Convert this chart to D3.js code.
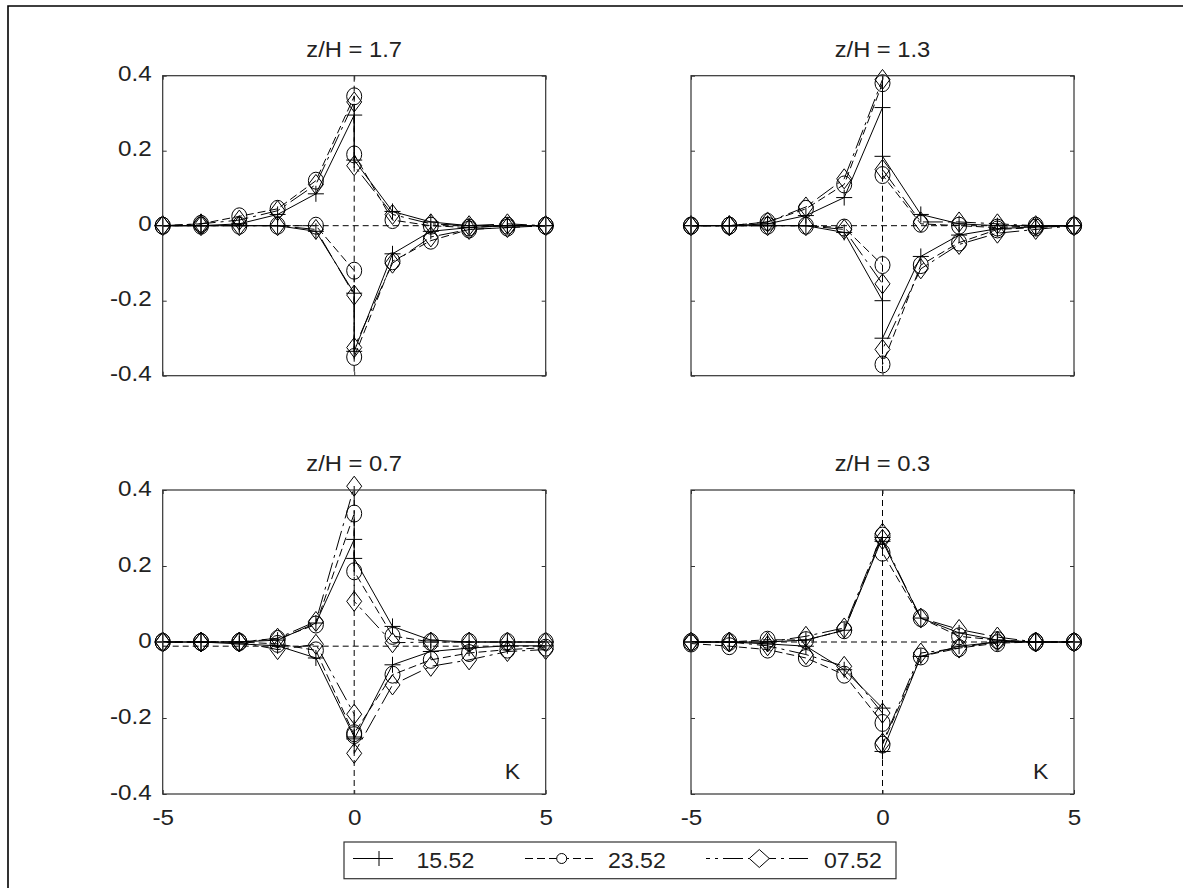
<!DOCTYPE html>
<html><head><meta charset="utf-8">
<script src="https://cdn.jsdelivr.net/npm/d3@7"></script>
<style>body{margin:0;background:#fff}svg{display:block}</style>
</head><body><svg id="chart" width="1183" height="888"></svg>
<script>
// ---------- data ----------
const kValues = [-5, -4, -3, -2, -1, 0, 0, 1, 2, 3, 4, 5];
const panelTitles = ["z/H = 1.7", "z/H = 1.3", "z/H = 0.7", "z/H = 0.3"];
const seriesNames = ["15.52", "23.52", "07.52"];
const xTickValues = [-5, 0, 5];
const xTickLabels = ["-5", "0", "5"];
const yTickValues = [-0.4, -0.2, 0, 0.2, 0.4];
const yTickLabels = ["-0.4", "-0.2", "0", "0.2", "0.4"];
const zeroLineLevels = [0, 0, -0.011, 0];
const axisLabel = "K";

// z/H = 1.7
const zh17_1552_up = [0, 0, 0.005, 0.03, 0.085, 0.295, 0.175, 0.038, 0.01, 0, 0, 0];
const zh17_1552_lo = [0, 0, 0, 0, -0.015, -0.18, -0.335, -0.075, -0.015, -0.005, 0, 0];
const zh17_2352_up = [0, 0.005, 0.025, 0.045, 0.12, 0.345, 0.19, 0.015, 0, -0.005, 0, 0];
const zh17_2352_lo = [0, 0, 0, 0, 0, -0.12, -0.35, -0.095, -0.04, -0.01, -0.005, 0];
const zh17_0752_up = [0, 0.005, 0.015, 0.04, 0.11, 0.33, 0.16, 0.03, 0.005, 0, 0.005, 0];
const zh17_0752_lo = [0, 0, 0, 0, -0.01, -0.185, -0.325, -0.1, -0.03, -0.01, -0.005, 0];
// z/H = 1.3
const zh13_1552_up = [0, 0, 0.005, 0.027, 0.075, 0.315, 0.185, 0.03, 0.005, 0, 0, 0];
const zh13_1552_lo = [0, 0, 0, 0, -0.018, -0.2, -0.3, -0.082, -0.025, -0.008, -0.003, 0];
const zh13_2352_up = [0, 0, 0.01, 0.045, 0.11, 0.38, 0.135, 0.005, 0, -0.005, 0, 0];
const zh13_2352_lo = [0, 0, 0, 0, -0.005, -0.105, -0.37, -0.105, -0.045, -0.01, -0.005, 0];
const zh13_0752_up = [0, 0, 0.01, 0.05, 0.125, 0.39, 0.15, 0.01, 0.01, 0.005, 0, 0];
const zh13_0752_lo = [0, 0, 0, 0, -0.01, -0.155, -0.33, -0.115, -0.05, -0.02, -0.01, 0];
// z/H = 0.7
const zh07_1552_up = [0, 0, 0, 0.005, 0.05, 0.27, 0.22, 0.041, 0.005, 0, 0, 0];
const zh07_1552_lo = [0, 0, -0.005, -0.01, -0.042, -0.25, -0.255, -0.06, -0.025, -0.016, -0.01, -0.01];
const zh07_2352_up = [0, 0, 0, 0.008, 0.046, 0.338, 0.186, 0.016, 0, 0, 0, 0];
const zh07_2352_lo = [0, 0, 0, -0.005, -0.022, -0.245, -0.24, -0.086, -0.047, -0.029, -0.02, -0.015];
const zh07_0752_up = [0, 0, 0, 0.01, 0.054, 0.41, 0.107, -0.002, 0, 0, 0, 0];
const zh07_0752_lo = [0, 0, 0, -0.02, -0.006, -0.19, -0.293, -0.113, -0.064, -0.047, -0.025, -0.02];
// z/H = 0.3
const zh03_1552_up = [0, 0, 0, 0.005, 0.031, 0.275, 0.265, 0.063, 0.024, 0.005, 0, 0];
const zh03_1552_lo = [0, 0, -0.005, -0.011, -0.073, -0.174, -0.288, -0.038, -0.011, 0, 0, 0];
const zh03_2352_up = [0, 0, 0.006, 0.005, 0.031, 0.28, 0.235, 0.063, 0.015, 0.005, 0, 0];
const zh03_2352_lo = [-0.004, -0.011, -0.02, -0.042, -0.086, -0.213, -0.27, -0.038, -0.016, -0.003, 0, 0];
const zh03_0752_up = [0, 0, 0, 0.015, 0.037, 0.286, 0.27, 0.063, 0.033, 0.013, 0, 0];
const zh03_0752_lo = [0, 0, -0.01, -0.033, -0.064, -0.187, -0.266, -0.029, -0.016, 0.002, 0, 0];

const panelData = [
  [[zh17_1552_up, zh17_1552_lo], [zh17_2352_up, zh17_2352_lo], [zh17_0752_up, zh17_0752_lo]],
  [[zh13_1552_up, zh13_1552_lo], [zh13_2352_up, zh13_2352_lo], [zh13_0752_up, zh13_0752_lo]],
  [[zh07_1552_up, zh07_1552_lo], [zh07_2352_up, zh07_2352_lo], [zh07_0752_up, zh07_0752_lo]],
  [[zh03_1552_up, zh03_1552_lo], [zh03_2352_up, zh03_2352_lo], [zh03_0752_up, zh03_0752_lo]]
];

// ---------- styles / layout ----------
const FONT = "'Liberation Sans', Arial, Helvetica, sans-serif";
const TXT = "#222";
const seriesStyle = [
  { marker: "plus", dash: null },
  { marker: "circle", dash: "8,4" },
  { marker: "diamond", dash: "20,5,3,5" }
];
const colLeft = [162.7, 691];
const panelW = 383;
const rowTop = [75.7, 490];
const rowBottom = [375.7, 794];

const svg = d3.select("#chart");
svg.append("rect").attr("width", 1183).attr("height", 888).attr("fill", "#fff");

// outer frame (only left and top edges visible)
svg.append("path").attr("d", "M8,888 V6 H1183").attr("fill", "none")
  .attr("stroke", "#000").attr("stroke-width", 1.6);

function stretchText(g, x, y, str, anchor, size, sx) {
  return g.append("text")
    .attr("transform", `translate(${x},${y}) scale(${sx},1)`)
    .attr("text-anchor", anchor)
    .attr("font-family", FONT).attr("font-size", size).attr("fill", TXT)
    .text(str);
}

function markerPath(type, cx, cy) {
  if (type === "plus") return `M${cx - 8},${cy}H${cx + 8}M${cx},${cy - 8}V${cy + 8}`;
  if (type === "diamond") return `M${cx},${cy - 10}L${cx + 7.5},${cy}L${cx},${cy + 10}L${cx - 7.5},${cy}Z`;
  const rx = 7.5, ry = 8.5;
  return `M${cx - rx},${cy}A${rx},${ry} 0 1,0 ${cx + rx},${cy}A${rx},${ry} 0 1,0 ${cx - rx},${cy}Z`;
}

panelData.forEach((series, i) => {
  const col = i % 2, row = Math.floor(i / 2);
  const left = colLeft[col], right = left + panelW;
  const top = rowTop[row], bottom = rowBottom[row];
  const x = d3.scaleLinear().domain([-5, 5]).range([left, right]);
  const y = d3.scaleLinear().domain([-0.4, 0.4]).range([bottom, top]);
  const g = svg.append("g");

  // reference dashed lines
  g.append("line").attr("x1", x(0)).attr("x2", x(0)).attr("y1", top).attr("y2", bottom)
    .attr("stroke", "#000").attr("stroke-width", 1).attr("stroke-dasharray", "6,4");
  g.append("line").attr("x1", left).attr("x2", right)
    .attr("y1", y(zeroLineLevels[i])).attr("y2", y(zeroLineLevels[i]))
    .attr("stroke", "#000").attr("stroke-width", 1).attr("stroke-dasharray", "6,4");

  // series
  const line = d3.line().x(d => x(d[0])).y(d => y(d[1]));
  series.forEach((branches, s) => {
    const st = seriesStyle[s];
    branches.forEach(vals => {
      const pts = kValues.map((k, j) => [k, vals[j]]);
      g.append("path").attr("d", line(pts)).attr("fill", "none")
        .attr("stroke", "#000").attr("stroke-width", 1)
        .attr("stroke-dasharray", st.dash);
      g.append("path")
        .attr("d", pts.map(p => markerPath(st.marker, x(p[0]), y(p[1]))).join(""))
        .attr("fill", "none").attr("stroke", "#000").attr("stroke-width", 1);
    });
  });

  // box
  g.append("rect").attr("x", left).attr("y", top).attr("width", panelW).attr("height", bottom - top)
    .attr("fill", "none").attr("stroke", "#333").attr("stroke-width", 1.2);

  // inward ticks on all sides
  const axL = g.append("g").attr("transform", `translate(${left},0)`)
    .call(d3.axisLeft(y).tickValues(yTickValues).tickSize(-4).tickPadding(10)
      .tickFormat((d, j) => col === 0 ? yTickLabels[j] : ""));
  const axR = g.append("g").attr("transform", `translate(${right},0)`)
    .call(d3.axisRight(y).tickValues(yTickValues).tickSize(-4).tickFormat(""));
  const axB = g.append("g").attr("transform", `translate(0,${bottom})`)
    .call(d3.axisBottom(x).tickValues(xTickValues).tickSize(-4).tickPadding(15)
      .tickFormat((d, j) => row === 1 ? xTickLabels[j] : ""));
  const axT = g.append("g").attr("transform", `translate(0,${top})`)
    .call(d3.axisTop(x).tickValues(xTickValues).tickSize(-4).tickFormat(""));
  [axL, axR, axB, axT].forEach(a => {
    a.select(".domain").remove();
    a.selectAll(".tick line").attr("stroke", "#333");
    a.selectAll("text").attr("font-family", FONT).attr("font-size", 22).attr("fill", TXT);
  });
  axL.selectAll("text").attr("dy", "0.24em").attr("transform", "scale(1.1,1)");
  axB.selectAll("text").attr("transform", "scale(1.1,1)");

  // title
  stretchText(g, (left + right) / 2, top - 19, panelTitles[i], "middle", 22, 1.08);
  // K label
  if (row === 1) stretchText(g, right - 41, bottom - 15, axisLabel, "start", 22, 1.05);
});

// ---------- legend ----------
const lg = svg.append("g");
lg.append("rect").attr("x", 344).attr("y", 842).attr("width", 552).attr("height", 36.7)
  .attr("fill", "#fff").attr("stroke", "#333").attr("stroke-width", 1.2);
const legendItems = [
  { x1: 353, x2: 393, mx: 379, tx: 416.5, off: 0 },
  { x1: 525, x2: 594, mx: 561.7, tx: 608, off: 0 },
  { x1: 706, x2: 808, mx: 759.3, tx: 824, off: 16 }
];
const ly = 858.5;
legendItems.forEach((it, s) => {
  const st = seriesStyle[s];
  lg.append("line").attr("x1", it.x1).attr("x2", it.x2).attr("y1", ly).attr("y2", ly)
    .attr("stroke", "#000").attr("stroke-width", 1)
    .attr("stroke-dasharray", st.dash).attr("stroke-dashoffset", it.off);
  let d;
  if (st.marker === "plus") d = `M${it.mx},${ly - 7.5}V${ly + 7.5}`;
  else if (st.marker === "circle") d = `M${it.mx - 5},${ly}A5,5 0 1,0 ${it.mx + 5},${ly}A5,5 0 1,0 ${it.mx - 5},${ly}Z`;
  else d = `M${it.mx},${ly - 9}L${it.mx + 10},${ly}L${it.mx},${ly + 9}L${it.mx - 10},${ly}Z`;
  lg.append("path").attr("d", d).attr("fill", "#fff").attr("stroke", "#000").attr("stroke-width", 1);
  stretchText(lg, it.tx, 868, seriesNames[s], "start", 22, 1.05);
});
</script></body></html>
